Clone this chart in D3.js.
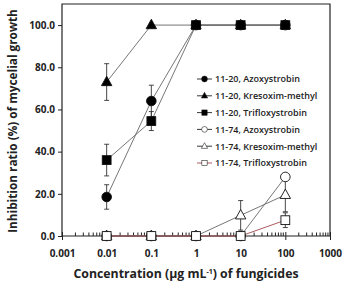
<!DOCTYPE html>
<html><head><meta charset="utf-8">
<script src="https://cdn.jsdelivr.net/npm/d3@7/dist/d3.min.js"></script>
<style>body{margin:0;background:#fff}svg{display:block}text{font-family:"Open Sans","Noto Sans",sans-serif}</style>
</head><body><svg id="c" width="343" height="281"></svg>
<script>
const concentrations = [0.01, 0.1, 1, 10, 100];
const seriesNames = ["11-20, Azoxystrobin","11-20, Kresoxim-methyl","11-20, Trifloxystrobin","11-74, Azoxystrobin","11-74, Kresoxim-methyl","11-74, Trifloxystrobin"];
const azo1120 = [18.5, 64, 100, 100, 100];
const azo1120Err = [5.8, 7.5, 0, 0, 0];
const kre1120 = [73, 100, 100, 100, 100];
const kre1120Err = [8.7, 0, 0, 0, 0];
const tri1120 = [36, 54.5, 100, 100, 100];
const tri1120Err = [7.5, 4.5, 0, 0, 0];
const azo1174 = [0, 0, 0, 0, 28];
const azo1174Err = [0, 0, 0, 0, 0];
const kre1174 = [0, 0, 0, 9.8, 19.5];
const kre1174Err = [0, 0, 0, 7, 8];
const tri1174 = [0, 0, 0, 0, 7.5];
const tri1174Err = [0, 0, 0, 0, 3.5];
const yTicks = [0, 20, 40, 60, 80, 100];
const xTicks = [0.001, 0.01, 0.1, 1, 10, 100, 1000];

const series = [
  {name: seriesNames[0], v: azo1120, e: azo1120Err, shape: "circle", fill: "#000", line: "#666"},
  {name: seriesNames[1], v: kre1120, e: kre1120Err, shape: "triangle", fill: "#000", line: "#666"},
  {name: seriesNames[2], v: tri1120, e: tri1120Err, shape: "square", fill: "#000", line: "#666"},
  {name: seriesNames[3], v: azo1174, e: azo1174Err, shape: "circle", fill: "#fff", line: "#666"},
  {name: seriesNames[4], v: kre1174, e: kre1174Err, shape: "triangle", fill: "#fff", line: "#666"},
  {name: seriesNames[5], v: tri1174, e: tri1174Err, shape: "square", fill: "#fff", line: "#a4474f"}
];

const svg = d3.select("#c");
const L = 62, R = 330, T = 4, B = 236;
const x = d3.scaleLog().domain([0.001, 1000]).range([L, R]);
const y = d3.scaleLinear().domain([0, 110]).range([B, T]);

svg.append("path").attr("d", `M${L},${B}V${T}H${R}V${B}`).attr("fill","none").attr("stroke","#222").attr("stroke-width",1.2);

const yAx = svg.append("g").attr("transform",`translate(${L},0)`)
  .call(d3.axisLeft(y).tickValues(yTicks).tickFormat(d3.format(".1f")).tickSize(4).tickPadding(3));
yAx.select(".domain").remove();
yAx.selectAll("line").attr("stroke","#222");
yAx.selectAll("text").attr("font-size",10).attr("font-weight","bold").attr("fill","#222");

const minors = [];
for (let p = -3; p < 3; p++) for (let k = 2; k <= 9; k++) minors.push(k * Math.pow(10, p));
const xAx = svg.append("g").attr("transform",`translate(0,${B})`)
  .call(d3.axisBottom(x).tickValues(xTicks).tickFormat(d => String(d)).tickSize(4).tickPadding(10));
xAx.select(".domain").attr("stroke","#222").attr("stroke-width",1.2).attr("d",`M${L},0H${R}`);
xAx.selectAll(".tick line").attr("y1",-4).attr("y2",4).attr("stroke","#222");
xAx.selectAll("text").attr("font-size",10).attr("font-weight","bold").attr("fill","#222");
svg.append("g").selectAll("line").data(minors).join("line")
  .attr("x1", d => x(d)).attr("x2", d => x(d)).attr("y1", B).attr("y2", B - 3.5)
  .attr("stroke","#222").attr("stroke-width",1);

svg.append("text").attr("x", 186).attr("y", 278).attr("text-anchor","middle")
  .attr("font-size",12.3).attr("font-weight","bold").attr("fill","#222")
  .html('Concentration (μg mL<tspan dy="-4" font-size="7">-1</tspan><tspan dy="4">) of fungicides</tspan>');
svg.append("text").attr("transform","translate(17,121) rotate(-90)").attr("text-anchor","middle")
  .attr("font-size",11.8).attr("font-weight","bold").attr("fill","#222")
  .text("Inhibition ratio (%) of mycelial growth");

function marker(g, shape, fill, cx, cy) {
  if (shape === "circle") g.append("circle").attr("cx",cx).attr("cy",cy).attr("r",4.8).attr("fill",fill).attr("stroke","#111").attr("stroke-width",0.9);
  else if (shape === "square") g.append("rect").attr("x",cx-4.4).attr("y",cy-4.4).attr("width",8.8).attr("height",8.8).attr("fill",fill).attr("stroke","#111").attr("stroke-width",0.9);
  else g.append("path").attr("d",`M${cx},${cy-5.8}L${cx+5.2},${cy+3.6}L${cx-5.2},${cy+3.6}Z`).attr("fill",fill).attr("stroke","#111").attr("stroke-width",0.9);
}

const line = d3.line().x(d => x(d[0])).y(d => y(d[1]));
const lg = svg.append("g"), eg = svg.append("g"), mg = svg.append("g");
series.forEach(s => {
  const pts = concentrations.map((c, i) => [c, s.v[i], s.e[i]]);
  lg.append("path").attr("d", line(pts)).attr("fill","none").attr("stroke", s.line).attr("stroke-width",0.9);
  pts.forEach(p => {
    if (p[2] > 0) {
      const cx = x(p[0]), y1 = y(p[1] + p[2]), y2 = y(p[1] - p[2]);
      eg.append("path").attr("d",`M${cx},${y1}V${y2}M${cx-2.5},${y1}H${cx+2.5}M${cx-2.5},${y2}H${cx+2.5}`)
        .attr("stroke","#333").attr("stroke-width",0.9).attr("fill","none");
    }
  });
});
series.forEach(s => {
  concentrations.forEach((c, i) => marker(mg, s.shape, s.fill, x(c), y(s.v[i])));
});

const leg = svg.append("g");
series.forEach((s, i) => {
  const ly = 79 + i * 16.8;
  leg.append("line").attr("x1",197).attr("x2",212).attr("y1",ly).attr("y2",ly).attr("stroke", s.line === "#666" ? "#222" : s.line).attr("stroke-width",0.9);
  const g = leg.append("g").attr("transform",`translate(${204.5},${ly}) scale(0.6) translate(${-204.5},${-ly})`);
  marker(g, s.shape, s.fill, 204.5, ly);
  leg.append("text").attr("x",215).attr("y",ly+3.3).attr("font-size",9).attr("font-weight",600).attr("fill","#222").text(s.name);
});
</script></body></html>
